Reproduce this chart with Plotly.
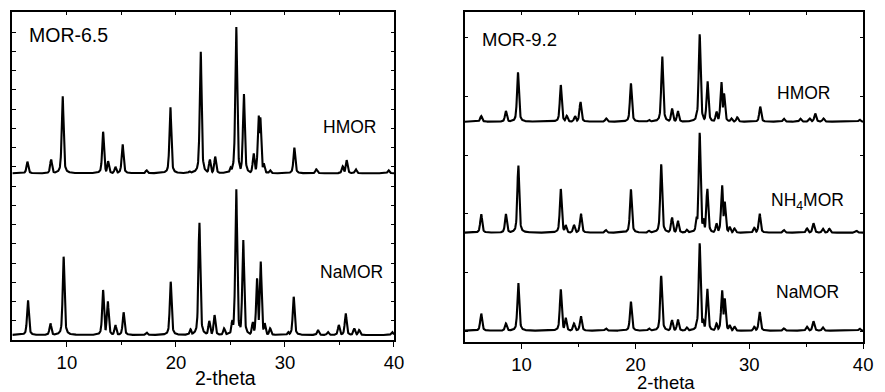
import numpy as np
import plotly.graph_objects as go

# ---------------- data (peak positions in 2-theta, peak heights in intensity units) -------------
two_theta_range = [5, 40]
x_tick_labels = [10, 20, 30, 40]

# MOR-6.5 : HMOR
mor65_hmor_pos = [6.38, 8.55, 9.61, 13.32, 13.78, 14.45, 15.11, 17.31, 19.49, 21.25, 22.27, 23.11,
                  23.60, 25.02, 25.53, 26.23, 27.13, 27.59, 27.74, 28.05, 28.64, 30.86, 32.88,
                  35.30, 35.66, 36.50, 39.50]
mor65_hmor_int = [11.6, 14.0, 77.6, 41.6, 12.0, 6.6, 29.3, 3.0, 66.6, 2.0, 122.6, 14.0,
                  16.6, 6.0, 147.6, 80.0, 20.0, 58.3, 56.0, 10.0, 3.0, 25.6, 4.0,
                  7.0, 13.0, 4.0, 3.0]
# MOR-6.5 : NaMOR
mor65_namor_pos = [6.43, 8.49, 9.70, 13.32, 13.75, 14.45, 15.20, 17.30, 19.52, 21.34, 22.15, 23.06,
                   23.54, 24.42, 25.17, 25.53, 25.85, 26.17, 27.05, 27.44, 27.77, 28.14, 28.64,
                   30.31, 30.80, 33.03, 33.94, 34.94, 35.57, 36.35, 36.80, 39.83]
mor65_namor_int = [35.0, 11.7, 78.3, 45.0, 34.0, 10.0, 22.7, 2.5, 53.3, 5.7, 113.3, 14.0,
                   20.0, 6.7, 15.0, 147.0, 10.0, 95.7, 13.0, 56.7, 74.0, 11.7, 6.7,
                   3.0, 38.3, 5.0, 3.0, 10.0, 21.7, 6.7, 5.0, 3.0]

# MOR-9.2 : HMOR
mor92_hmor_pos = [6.45, 8.62, 9.68, 13.44, 13.96, 14.69, 15.17, 17.43, 19.60, 21.19, 22.35, 23.21,
                  23.73, 25.38, 25.64, 26.33, 27.12, 27.55, 27.78, 28.42, 28.94, 30.96, 33.04,
                  34.49, 35.30, 35.79, 36.51, 39.69]
mor92_hmor_int = [5.7, 10.7, 49.3, 36.7, 6.0, 5.7, 20.0, 3.3, 38.3, 2.0, 65.7, 13.3,
                  10.7, 8.0, 87.3, 40.7, 10.0, 40.0, 28.3, 3.3, 4.4, 15.0, 3.0,
                  3.0, 3.3, 8.3, 3.3, 2.0]
# MOR-9.2 : NH4MOR
mor92_nh4mor_pos = [6.45, 8.62, 9.71, 13.44, 13.87, 14.60, 15.21, 17.40, 19.60, 21.19, 22.26, 23.21,
                    23.73, 24.51, 25.38, 25.64, 25.96, 26.31, 27.12, 27.61, 27.84, 28.27, 28.70,
                    30.44, 30.91, 33.04, 35.07, 35.64, 36.46, 37.03, 39.40]
mor92_nh4mor_int = [18.7, 18.7, 67.7, 43.7, 7.7, 7.7, 19.3, 2.7, 43.3, 2.0, 68.3, 15.3,
                    12.0, 3.0, 16.0, 100.0, 14.3, 44.3, 9.3, 47.7, 31.0, 6.0, 4.3,
                    5.0, 19.3, 2.7, 4.3, 9.3, 4.0, 4.0, 2.0]
# MOR-9.2 : NaMOR
mor92_namor_pos = [6.45, 8.62, 9.71, 13.44, 13.87, 14.60, 15.21, 17.40, 19.60, 21.19, 22.26, 23.21,
                   23.73, 24.51, 25.38, 25.64, 25.96, 26.31, 27.12, 27.61, 27.84, 28.27, 28.70,
                   30.44, 30.91, 33.04, 35.07, 35.64, 36.46, 39.69]
mor92_namor_int = [17.3, 7.3, 48.0, 41.3, 13.0, 7.3, 14.7, 2.3, 29.0, 2.3, 54.7, 10.7,
                   11.3, 3.3, 8.0, 87.3, 10.7, 42.3, 7.3, 40.7, 32.3, 5.7, 4.0,
                   4.0, 19.0, 2.3, 4.0, 9.3, 3.3, 2.0]

labels_65 = ["HMOR", "NaMOR"]
labels_92 = ["HMOR", "NH<sub>4</sub>MOR", "NaMOR"]
panel_titles = ["MOR-6.5", "MOR-9.2"]
axis_title = "2-theta"

# ---------------- rendering helpers -------------
grid = np.arange(5.0, 40.0001, 0.02)


def pattern(pos, inten, offset, hw=0.1):
    y = np.zeros_like(grid)
    for p, h in zip(pos, inten):
        d = (grid - p) / hw
        prof = h * (0.45 * np.exp(-np.log(2) * d ** 2) + 0.55 / (1 + d ** 2))
        y = np.maximum(y, prof)
    return y + offset


LINE = dict(color="black", width=2.1)
fig = go.Figure()

# left panel (offsets stack the patterns)
fig.add_trace(go.Scatter(x=grid, y=pattern(mor65_hmor_pos, mor65_hmor_int, 166.7), mode="lines",
                         line=LINE, xaxis="x", yaxis="y", showlegend=False, hoverinfo="skip"))
fig.add_trace(go.Scatter(x=grid, y=pattern(mor65_namor_pos, mor65_namor_int, 5.0), mode="lines",
                         line=LINE, xaxis="x", yaxis="y", showlegend=False, hoverinfo="skip"))
# right panel
fig.add_trace(go.Scatter(x=grid, y=pattern(mor92_hmor_pos, mor92_hmor_int, 220.3), mode="lines",
                         line=LINE, xaxis="x2", yaxis="y2", showlegend=False, hoverinfo="skip"))
fig.add_trace(go.Scatter(x=grid, y=pattern(mor92_nh4mor_pos, mor92_nh4mor_int, 109.3), mode="lines",
                         line=LINE, xaxis="x2", yaxis="y2", showlegend=False, hoverinfo="skip"))
fig.add_trace(go.Scatter(x=grid, y=pattern(mor92_namor_pos, mor92_namor_int, 11.3), mode="lines",
                         line=LINE, xaxis="x2", yaxis="y2", showlegend=False, hoverinfo="skip"))
# dummy traces for the top (inner-tick) axes
fig.add_trace(go.Scatter(x=[None], y=[None], xaxis="x3", yaxis="y", showlegend=False, hoverinfo="skip"))
fig.add_trace(go.Scatter(x=[None], y=[None], xaxis="x4", yaxis="y2", showlegend=False, hoverinfo="skip"))

W, H = 885, 392
FONT = "Liberation Sans, Arial, sans-serif"


def px_x(p):
    return p / W


def px_y(p):
    return 1 - p / H


dom_x1 = [px_x(12.5), px_x(398.5)]
dom_x2 = [px_x(470), px_x(873)]
dom_y1 = [px_y(340), px_y(12)]
dom_y2 = [px_y(342), px_y(12)]

xbase = dict(range=two_theta_range, showline=True, linecolor="black", linewidth=1.5, mirror=True,
             ticks="outside", ticklen=5, tickwidth=1.3, tickcolor="black",
             tickvals=x_tick_labels, ticktext=[str(v) for v in x_tick_labels],
             tickfont=dict(family=FONT, size=18.5, color="#000"),
             minor=dict(tickvals=[15, 25, 35], ticks="outside", ticklen=3.5, tickwidth=1.2, tickcolor="black"),
             showgrid=False, zeroline=False, fixedrange=True)
xtop = dict(range=two_theta_range, side="top", showline=False, ticks="inside", ticklen=3, tickwidth=1,
            tickcolor="black", dtick=5, tick0=0, showticklabels=False, showgrid=False, zeroline=False)
ybase = dict(showline=True, linecolor="black", linewidth=1.5, mirror="ticks", ticks="inside", ticklen=3.5,
             tickwidth=1, tickcolor="black", showticklabels=False, showgrid=False, zeroline=False)

fig.update_layout(
    width=W, height=H, margin=dict(l=0, r=0, t=0, b=0),
    paper_bgcolor="white", plot_bgcolor="white",
    xaxis=dict(xbase, domain=dom_x1, anchor="y"),
    yaxis=dict(ybase, domain=dom_y1, anchor="x", range=[0, 328], tick0=0, dtick=19.25),
    xaxis2=dict(xbase, domain=dom_x2, anchor="y2"),
    yaxis2=dict(ybase, domain=dom_y2, anchor="x2", range=[0, 330], tick0=10.8, dtick=58.7),
    xaxis3=dict(xtop, overlaying="x", anchor="y"),
    xaxis4=dict(xtop, overlaying="x2", anchor="y2"),
)

ann = []


def add_text(text, cx, cy, size):
    ann.append(dict(text=text, x=px_x(cx), y=px_y(cy), xref="paper", yref="paper",
                    xanchor="center", yanchor="middle", showarrow=False,
                    font=dict(family=FONT, size=size, color="#000")))


add_text(panel_titles[0], 69, 35, 19.5)
add_text(panel_titles[1], 525, 39, 18.5)
add_text(labels_65[0], 353, 127, 17.5)
add_text(labels_65[1], 356, 271.5, 17.5)
add_text(labels_92[0], 813, 93.5, 17.5)
add_text(labels_92[1], 817, 201.5, 17.5)
add_text(labels_92[2], 817, 291.7, 17.5)
add_text(axis_title, 228, 378, 19.5)
add_text(axis_title, 674, 382.5, 18.5)
fig.update_layout(annotations=ann)

fig.write_html("out.html")
